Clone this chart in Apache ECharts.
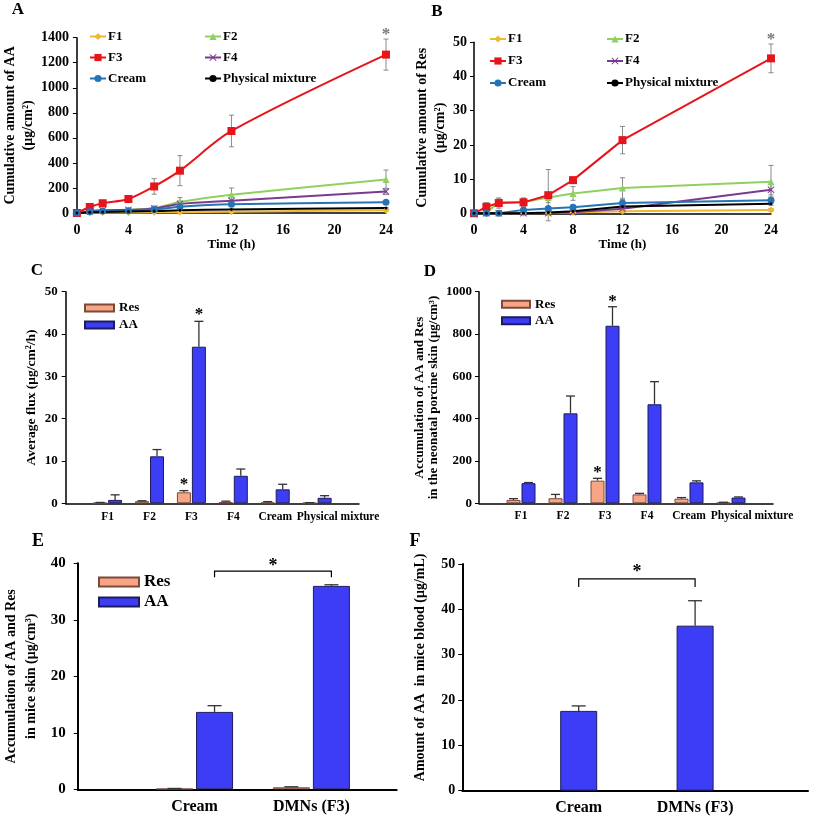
<!DOCTYPE html>
<html><head><meta charset="utf-8">
<script src="https://cdn.jsdelivr.net/npm/echarts@6/dist/echarts.min.js"></script>
<style>html,body{margin:0;padding:0;background:#fff}#chart{width:815px;height:819px}</style>
</head><body><div id="chart"></div>
<script>
// ---------------- DATA ----------------
const timePoints = [0, 1, 2, 4, 6, 8, 12, 24];
const lineNames = ['F1', 'F2', 'F3', 'F4', 'Cream', 'Physical mixture'];

// Panel A: cumulative amount of AA (µg/cm²)
const aaF1 = [0, 2, 3, 4, 5, 6, 10, 22];
const aaF2 = [0, 12, 20, 25, 40, 88, 145, 268];
const aaF3 = [0, 48, 78, 112, 212, 338, 655, 1265];
const aaF4 = [0, 15, 22, 25, 35, 72, 98, 172];
const aaCream = [0, 10, 15, 18, 28, 50, 70, 85];
const aaPM = [0, 5, 8, 12, 15, 22, 28, 40];
const aaF1Err = [0, 1, 1, 1, 1, 2, 2, 3];
const aaF2Err = [0, 5, 5, 8, 15, 35, 55, 75];
const aaF3Err = [0, 8, 12, 12, 62, 120, 126, 124];
const aaF4Err = [0, 4, 4, 6, 10, 25, 30, 25];
const aaCreamErr = [0, 3, 3, 5, 8, 15, 15, 10];
const aaPMErr = [0, 1, 1, 2, 2, 3, 3, 4];

// Panel B: cumulative amount of Res (µg/cm²)
const resF1 = [0, 0, 0, 0, 0, 0.2, 0.6, 1.0];
const resF2 = [0, 0.2, 3.2, 3.3, 4.6, 5.8, 7.4, 9.2];
const resF3 = [0, 1.9, 3.0, 3.2, 5.3, 9.7, 21.4, 45.3];
const resF4 = [0, 0, 0, 0, 0, 0.3, 1.3, 6.9];
const resCream = [0, 0, 0, 1.0, 1.4, 1.8, 3.0, 3.8];
const resPM = [0, 0, 0, 0, 0.2, 0.6, 2.0, 2.8];
const resF1Err = [0, 0, 0, 0, 0, 0.2, 0.3, 0.4];
const resF2Err = [0, 0.5, 1, 1, 1.5, 2, 3, 4.8];
const resF3Err = [0, 1.2, 1.5, 1.3, 7.5, 0.5, 4, 4.2];
const resF4Err = [0, 0, 0, 0, 0, 0.3, 1, 1.5];
const resCreamErr = [0, 0, 0, 0.5, 0.5, 0.5, 1, 1];
const resPMErr = [0, 0, 0, 0, 0.2, 0.3, 0.5, 0.5];
const cumSig = ['', '', '', '', '', '', '', '*']; // on F3

// Panels C, D: formulations
const formulations = ['F1', 'F2', 'F3', 'F4', 'Cream', 'Physical mixture'];
const fluxRes = [0.1, 0.5, 2.6, 0.3, 0.2, 0.1];
const fluxResErr = [0.1, 0.1, 0.4, 0.2, 0.2, 0.05];
const fluxAA = [0.8, 11.1, 37.0, 6.5, 3.3, 1.3];
const fluxAAErr = [1.2, 1.6, 6.0, 1.6, 1.2, 0.5];
const accRes = [16, 24, 107, 42, 22, 3];
const accResErr = [6, 18, 11, 5, 5, 2];
const accAA = [95, 425, 839, 468, 99, 27];
const accAAErr = [3, 82, 90, 107, 7, 3];
const formSigRes = ['', '', '*', '', '', ''];
const formSigAA = ['', '', '*', '', '', ''];

// Panels E, F: in vivo
const invivoGroups = ['Cream', 'DMNs (F3)'];
const skinRes = [0.1, 0.35];
const skinResErr = [0.05, 0.1];
const skinAA = [13.7, 36.0];
const skinAAErr = [1.1, 0.2];
const bloodAA = [17.6, 36.4];
const bloodAAErr = [1.1, 5.5];
const skinBracket = [1, 2, 38.6];   // from group 1 to group 2 at y
const bloodBracket = [1, 2, 46.7];

// ---------------- STYLE ----------------
const FONT = '"Liberation Serif","Times New Roman",serif';
const LCOL = ['#EDB92E', '#8FD160', '#E8141B', '#7A3B8F', '#2574B5', '#000000'];
const LSYM = ['diamond', 'triangle', 'rect',
  'path://M0,1L1,0L5,4L9,0L10,1L6,5L10,9L9,10L5,6L1,10L0,9L4,5Z', 'circle', 'circle'];
const LSIZE = [7, 7, 8, 7, 7, 3];
const RES_COL = '#F8A585', AA_COL = '#3D3DF5';
const RES_BORDER = '#7a4a3a', AA_BORDER = '#1c1c5c';

const txt = (size, extra) => Object.assign({fontFamily: FONT, fontWeight: 'bold', fontSize: size, color: '#000'}, extra || {});

function errRender(offsetPx, capW, both, color, lw) {
  return function (params, api) {
    const x = api.value(0), y = api.value(1), e = api.value(2);
    const top = api.coord([x, y + e]);
    const bot = api.coord([x, both ? y - e : y]);
    const cx = top[0] + offsetPx;
    const style = {stroke: color, lineWidth: lw, fill: null};
    const ch = [
      {type: 'line', shape: {x1: cx, y1: top[1], x2: cx, y2: bot[1]}, style},
      {type: 'line', shape: {x1: cx - capW / 2, y1: top[1], x2: cx + capW / 2, y2: top[1]}, style}
    ];
    if (both) ch.push({type: 'line', shape: {x1: cx - capW / 2, y1: bot[1], x2: cx + capW / 2, y2: bot[1]}, style});
    return {type: 'group', children: ch};
  };
}
function starRender(offsetPx, gapPx, size, color) {
  return function (params, api) {
    const p = api.coord([api.value(0), api.value(1)]);
    return {type: 'text', x: p[0] + offsetPx, y: p[1] - gapPx + size * 0.22,
      style: {text: '*', fontFamily: FONT, fontWeight: 'bold', fontSize: size, fill: color,
        textAlign: 'center', textVerticalAlign: 'middle'}};
  };
}
function bracketRender(offsetPx, drop, starGap, size) {
  return function (params, api) {
    const a = api.coord([api.value(0), api.value(2)]);
    const b = api.coord([api.value(1), api.value(2)]);
    const x1 = a[0] + offsetPx, x2 = b[0] + offsetPx, y = a[1];
    const st = {stroke: '#000', lineWidth: 1.2, fill: null};
    return {type: 'group', children: [
      {type: 'polyline', shape: {points: [[x1, y + drop], [x1, y], [x2, y], [x2, y + drop]]}, style: st},
      {type: 'text', x: (x1 + x2) / 2, y: y - starGap + size * 0.22,
        style: {text: '*', fontFamily: FONT, fontWeight: 'bold', fontSize: size, fill: '#000',
          textAlign: 'center', textVerticalAlign: 'middle'}}
    ]};
  };
}

// ---------------- LAYOUT ----------------
const grids = [
  {left: 76, top: 37.7, width: 310, height: 175.3},
  {left: 474, top: 42.3, width: 297, height: 171},
  {left: 65.7, top: 291.7, width: 293.3, height: 211.6},
  {left: 479, top: 291.7, width: 294, height: 211.6},
  {left: 77.7, top: 563.3, width: 319, height: 226},
  {left: 462.3, top: 564, width: 345.7, height: 226.7}
];

const axisLine = (w) => ({show: true, onZero: false, lineStyle: {color: '#000', width: w}});
const yTick = {show: true, inside: false, length: 4, lineStyle: {color: '#000', width: 1}};
const plainNum = (v) => String(v);

function timeX(idx, nameGap) {
  return {gridIndex: idx, type: 'value', min: 0, max: 24, interval: 4,
    axisLine: axisLine(1.5), axisTick: {show: false}, splitLine: {show: false},
    axisLabel: Object.assign(txt(14), {margin: 10, formatter: plainNum}),
    name: 'Time (h)', nameLocation: 'middle', nameGap, nameTextStyle: txt(13)};
}
function catX(idx, cats, max, fontSize, margin, lw, pmPad) {
  return {gridIndex: idx, type: 'value', min: 0, max, interval: 1,
    axisLine: axisLine(lw), axisTick: {show: false}, splitLine: {show: false},
    axisLabel: Object.assign(txt(fontSize), {margin, showMaxLabel: true, showMinLabel: true,
      formatter: (v) => {
        if (!Number.isInteger(v) || v < 1 || v > cats.length) return '';
        const c = cats[v - 1];
        return (pmPad && v === cats.length) ? '{pm|' + c + '}' : c;
      },
      rich: {pm: Object.assign(txt(fontSize), {padding: [0, 0, 0, pmPad || 0]})}})};
}
function valY(idx, max, interval, fontSize, margin, name, nameGap, nameSize, lineHeight, lw, namePad) {
  return {gridIndex: idx, type: 'value', min: 0, max, interval,
    axisLine: axisLine(lw), axisTick: yTick, splitLine: {show: false},
    axisLabel: Object.assign(txt(fontSize), {margin, formatter: plainNum}),
    name, nameLocation: 'middle', nameGap, nameRotate: 90,
    nameTextStyle: txt(nameSize, {lineHeight, padding: namePad || 0})};
}

const xAxis = [
  timeX(0, 24.5), timeX(1, 22.5),
  catX(2, formulations, 7, 11.5, 8, 1.5, 42),
  catX(3, formulations, 7, 11.5, 7, 1.5, 42),
  catX(4, invivoGroups, 2.73, 16, 10, 2, 0),
  catX(5, invivoGroups, 2.97, 16, 9, 2, 0)
];
const yAxis = [
  valY(0, 1400, 200, 14, 8, 'Cumulative amount of AA\n(μg/cm²)', 33, 14, 18, 1.5),
  valY(1, 50, 10, 14, 7, 'Cumulative amount of Res\n(μg/cm²)', 22, 14, 18, 1.5),
  valY(2, 50, 10, 13, 8, 'Average flux (μg/cm²/h)', 26, 13.5, 16, 1.5),
  valY(3, 1000, 200, 13, 7, 'Accumulation of AA and Res\nin the neonatal porcine skin (μg/cm³)', 39, 13, 13.5, 1.5),
  valY(4, 40, 10, 15, 12, 'Accumulation of AA and Res\nin mice skin (μg/cm³)', 36, 14, 20, 2),
  valY(5, 50, 10, 14, 7, 'Amount of AA  in mice blood (μg/mL)', 34, 14, 16, 2, [0, 0, 0, 20])
];

// ---------------- SERIES ----------------
const series = [];
function addCumPanel(idx, vals, errs, smooth) {
  lineNames.forEach((name, k) => {
    series.push({type: 'custom', name: name + ' SD', xAxisIndex: idx, yAxisIndex: idx, z: 2, silent: true,
      data: timePoints.map((t, i) => [t, vals[k][i], errs[k][i]]).filter(d => d[2] > 0),
      encode: {x: 0, y: 1}, renderItem: errRender(0, 5, true, '#8a8a8a', 1)});
  });
  lineNames.forEach((name, k) => {
    series.push({type: 'line', name, xAxisIndex: idx, yAxisIndex: idx, z: 3, smooth,
      data: timePoints.map((t, i) => [t, vals[k][i]]),
      symbol: LSYM[k], symbolSize: LSIZE[k], showAllSymbol: true,
      lineStyle: {color: LCOL[k], width: 2}, itemStyle: {color: LCOL[k]}});
  });
  const f3 = 2;
  series.push({type: 'custom', name: 'sig', xAxisIndex: idx, yAxisIndex: idx, z: 4, silent: true,
    data: timePoints.map((t, i) => [t, vals[f3][i] + errs[f3][i], cumSig[i]]).filter(d => d[2] === '*').map(d => [d[0], d[1]]),
    encode: {x: 0, y: 1}, renderItem: starRender(0, 8, 17, '#777')});
}
addCumPanel(0, [aaF1, aaF2, aaF3, aaF4, aaCream, aaPM],
  [aaF1Err, aaF2Err, aaF3Err, aaF4Err, aaCreamErr, aaPMErr], 0.3);
addCumPanel(1, [resF1, resF2, resF3, resF4, resCream, resPM],
  [resF1Err, resF2Err, resF3Err, resF4Err, resCreamErr, resPMErr], false);

function addBarPanel(idx, cats, res, resErr, aa, aaErr, bw, gapPx, cap, sigRes, sigAA, starGap) {
  const off = (bw + gapPx) / 2;
  const gapPct = (gapPx / bw * 100) + '%';
  if (res) {
    series.push({type: 'bar', name: 'Res', xAxisIndex: idx, yAxisIndex: idx, barWidth: bw, barGap: gapPct,
      data: cats.map((c, i) => [i + 1, res[i]]),
      itemStyle: {color: RES_COL, borderColor: RES_BORDER, borderWidth: 1}});
  }
  series.push({type: 'bar', name: 'AA', xAxisIndex: idx, yAxisIndex: idx, barWidth: bw, barGap: gapPct,
    data: cats.map((c, i) => [i + 1, aa[i]]),
    itemStyle: {color: AA_COL, borderColor: AA_BORDER, borderWidth: 1}});
  const aaOff = res ? off : 0;
  if (res) {
    series.push({type: 'custom', name: 'Res SD', xAxisIndex: idx, yAxisIndex: idx, z: 3, silent: true,
      data: cats.map((c, i) => [i + 1, res[i], resErr[i]]), encode: {x: 0, y: 1},
      renderItem: errRender(-off, cap, false, '#333', 1.3)});
  }
  series.push({type: 'custom', name: 'AA SD', xAxisIndex: idx, yAxisIndex: idx, z: 3, silent: true,
    data: cats.map((c, i) => [i + 1, aa[i], aaErr[i]]), encode: {x: 0, y: 1},
    renderItem: errRender(aaOff, cap, false, '#333', 1.3)});
  if (sigRes) {
    series.push({type: 'custom', name: 'sig', xAxisIndex: idx, yAxisIndex: idx, z: 4, silent: true,
      data: cats.map((c, i) => [i + 1, res[i] + resErr[i], sigRes[i]]).filter(d => d[2] === '*').map(d => [d[0], d[1]]),
      encode: {x: 0, y: 1}, renderItem: starRender(-off, starGap, 17, '#000')});
    series.push({type: 'custom', name: 'sig', xAxisIndex: idx, yAxisIndex: idx, z: 4, silent: true,
      data: cats.map((c, i) => [i + 1, aa[i] + aaErr[i], sigAA[i]]).filter(d => d[2] === '*').map(d => [d[0], d[1]]),
      encode: {x: 0, y: 1}, renderItem: starRender(aaOff, starGap, 17, '#000')});
  }
  return aaOff;
}
addBarPanel(2, formulations, fluxRes, fluxResErr, fluxAA, fluxAAErr, 14, 1, 9, formSigRes, formSigAA, 10);
addBarPanel(3, formulations, accRes, accResErr, accAA, accAAErr, 14, 1, 9, formSigRes, formSigAA, 9);
const eOff = addBarPanel(4, invivoGroups, skinRes, skinResErr, skinAA, skinAAErr, 37, 3, 14, null, null, 0);
addBarPanel(5, invivoGroups, null, null, bloodAA, bloodAAErr, 37, 0, 14, null, null, 0);
series.push({type: 'custom', name: 'bracket', xAxisIndex: 4, yAxisIndex: 4, silent: true, z: 4,
  data: [skinBracket], encode: {x: [0, 1], y: 2}, renderItem: bracketRender(eOff, 6, 9, 18)});
series.push({type: 'custom', name: 'bracket', xAxisIndex: 5, yAxisIndex: 5, silent: true, z: 4,
  data: [bloodBracket], encode: {x: [0, 1], y: 2}, renderItem: bracketRender(0, 8, 11, 18)});

// ---------------- LEGENDS ----------------
function lineLegend(left, top, names, lh) {
  return {orient: 'vertical', left, top, data: names, itemWidth: 16, itemHeight: 9, itemGap: 0,
    selectedMode: false, textStyle: txt(13, {lineHeight: lh, padding: [0, 0, 0, -3]})};
}
function barLegend(left, top, w, h, lh, size) {
  return {orient: 'vertical', left, top, data: ['Res', 'AA'], icon: 'rect', itemWidth: w, itemHeight: h,
    itemGap: 0, selectedMode: false, textStyle: txt(size, {lineHeight: lh})};
}
const legend = [
  lineLegend(84, 21, ['F1', 'F3', 'Cream'], 21),
  lineLegend(199, 21, ['F2', 'F4', 'Physical mixture'], 21),
  lineLegend(484, 23, ['F1', 'F3', 'Cream'], 22),
  lineLegend(601, 23, ['F2', 'F4', 'Physical mixture'], 22),
  barLegend(79, 294.5, 29, 7, 17, 13),
  barLegend(496, 291, 28, 7, 16.5, 13),
  barLegend(93, 567, 40, 9, 20, 17)
];

// ---------------- PANEL LETTERS ----------------
const panelLetters = [['A', 18, 10, 17], ['B', 437, 12, 17], ['C', 37, 271, 17],
  ['D', 430, 272, 17], ['E', 38, 541, 18], ['F', 415, 541, 18]];
const graphic = panelLetters.map(([t, x, y, s]) => ({type: 'text', x, y,
  style: {text: t, fontFamily: FONT, fontWeight: 'bold', fontSize: s, fill: '#000',
    textAlign: 'center', textVerticalAlign: 'middle'}}));

const chart = echarts.init(document.getElementById('chart'), null, {renderer: 'canvas'});
chart.setOption({
  animation: false,
  backgroundColor: '#fff',
  textStyle: {fontFamily: FONT},
  grid: grids.map(g => Object.assign({containLabel: false}, g)),
  xAxis, yAxis, series, legend, graphic
});
</script></body></html>
